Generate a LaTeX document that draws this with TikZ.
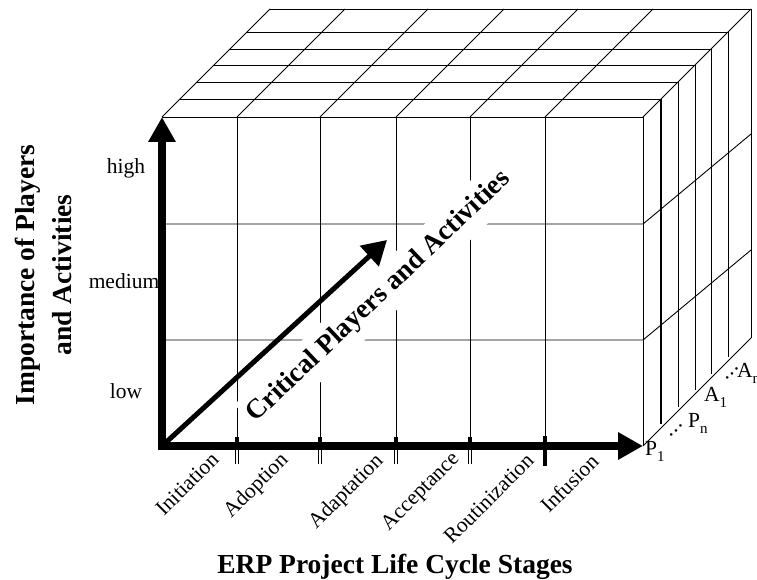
\documentclass[tikz,border=0pt]{standalone}
\usepackage{fontspec}
\setmainfont{Liberation Serif}
\usetikzlibrary{arrows.meta}
\newcommand\lowsub[1]{\raisebox{-0.32em}{\fontsize{15}{15}\selectfont #1}}
\begin{document}
\begin{tikzpicture}[x=1pt,y=-1pt,
  grid/.style={line width=0.9pt, black},
  axisline/.style={line width=7.5pt, -{Triangle[length=25pt,width=26pt]}},
  lbl/.style={font=\fontsize{21.5}{24}\selectfont, inner sep=0pt},
  stage/.style={font=\fontsize{21.5}{24}\selectfont, inner sep=0pt, rotate=45, anchor=base east},
  bigtitle/.style={font=\fontsize{27.5}{37}\selectfont\bfseries, inner sep=0pt},
  rlabel/.style={font=\fontsize{21.5}{24}\selectfont, inner sep=0pt, anchor=base west},
  dotsl/.style={font=\fontsize{21.5}{24}\selectfont, inner sep=0pt, anchor=base west, rotate=45}]
\useasboundingbox (0,0) rectangle (757,580);

% ---- key corners
\coordinate (O) at (162,446);
\coordinate (ytip) at (162,117);
\coordinate (xtip) at (643,446);
\coordinate (ybot) at (162,449.75);
\coordinate (xleft) at (158.25,446);
\coordinate (FR) at (643,117);
\coordinate (BR) at (751,338);

% ---- top face: slice edges
\foreach \d in {18,35,52,68,85} {
  \draw[grid] (162+\d,117-\d) -- (643+\d,117-\d) -- (643+\d,446-\d-4);
}
\draw[grid] (270,9) -- (751,9) -- (BR);
% ---- top face: depth lines
\foreach \x in {162,237,320,396,470,545,643} {
  \draw[grid] (\x,117) -- (\x+108,9);
}
% thicker first slice line on the right face
\draw[line width=1.8pt] (661,99) -- (661,424);

% ---- front face
\draw[grid] (ytip) -- (FR) -- (xtip);
\foreach \x in {237,320,396,470,545} {
  \draw[grid] (\x,117) -- (\x,446);
}
\draw[grid] (162,224) -- (643,224) -- (751,134);
\draw[grid] (162,340) -- (643,340) -- (751,250);
\draw[grid] (xtip) -- (BR);

% ---- diagonal label with white band
\node[font=\fontsize{27.5}{30}\selectfont\bfseries, fill=white, rotate=43.5,
      inner xsep=3pt, inner ysep=9pt] (cpa) at (379,297) {Critical Players and Activities};

% ---- axes
\draw[axisline] (ybot) -- (ytip);
\draw[axisline] (xleft) -- (xtip);
\draw[line width=5pt, -{Triangle[length=24pt,width=27pt]}] (O) -- (387,240);

% ---- ticks
\foreach \x in {237,320,396,470} {
  \draw[line width=1pt] (\x-1.6,438) -- (\x-1.6,464);
  \draw[line width=1pt] (\x+1.6,438) -- (\x+1.6,464);
  \fill (\x-2.1,437) rectangle (\x+2.1,442);
}
\draw[line width=4pt] (545,436) -- (545,466);

% ---- level labels
\node[lbl, anchor=base] (high) at (126,174) {high};
\node[lbl, anchor=base] (medium) at (124,288) {medium};
\node[lbl, anchor=base] (low) at (126,398) {low};

% ---- stage labels
\node[stage] (s1) at (220,461) {Initiation};
\node[stage] (s2) at (289,461) {Adoption};
\node[stage] (s3) at (384,462) {Adaptation};
\node[stage] (s4) at (460,460) {Acceptance};
\node[stage] (s5) at (535,462) {Routinization};
\node[stage] (s6) at (600,463) {Infusion};

% ---- titles
\node[bigtitle, anchor=base] (xtitle) at (395,573) {ERP Project Life Cycle Stages};
\node[bigtitle, rotate=90, align=center] (ytitle) at (43,275) {Importance of Players\\and Activities};

% ---- depth labels
\node[rlabel] (p1) at (645,455) {P\lowsub{1}};
\node[dotsl] (d1) at (670,438) {.\hspace{1.2pt}.\hspace{1.2pt}.};
\node[rlabel] (pn) at (688,427) {P\lowsub{n}};
\node[rlabel] (a1) at (704,401) {A\lowsub{1}};
\node[dotsl] (d2) at (726,381) {.\hspace{1.2pt}.\hspace{1.2pt}.};
\node[rlabel] (am) at (737,377) {A\lowsub{m}};
\end{tikzpicture}
\end{document}
